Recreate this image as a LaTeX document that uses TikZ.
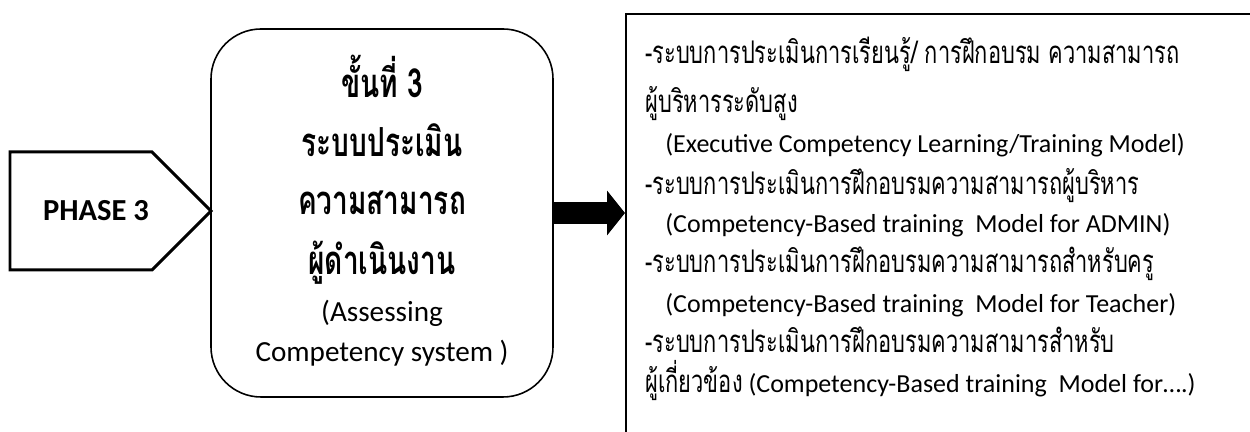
\documentclass[tikz,border=0pt]{standalone}
\usepackage{fontspec}
\setmainfont{Carlito}
\newfontfamily\thaifont[Script=Thai,Scale=1.2,FakeStretch=0.7]{Loma}
\usetikzlibrary{arrows.meta,positioning}
\newcommand{\thaitxt}[1]{{\thaifont #1}}

\begin{document}
\begin{tikzpicture}[
    phaseshape/.style={line width=1.7pt, line join=miter},
    stagebox/.style={draw, line width=0.9pt, rounded corners=1cm,
        minimum width=6.84cm, minimum height=7.36cm},
    listbox/.style={draw, line width=1.2pt, minimum width=13cm,
        minimum height=9cm, anchor=north west},
    stageline/.style={anchor=base, inner sep=0pt,
        font=\fontsize{19}{22}\selectfont\bfseries},
    stageeng/.style={anchor=base, inner sep=0pt,
        font=\fontsize{16.6}{20}\selectfont},
    listline/.style={anchor=base west, inner sep=0pt,
        font=\fontsize{14.8}{18}\selectfont},
    bigarrow/.style={line width=0.44cm, -{Triangle[length=0.36cm,width=0.88cm]}}
]
    \useasboundingbox (0,0) rectangle (25,8.64);
    \clip (0,0) rectangle (25,8.64);

    % Phase tag
    \draw[phaseshape] (0.2,3.24) -- (0.2,5.6) -- (3.04,5.6) -- (4.22,4.42) -- (3.04,3.24) -- cycle;
    \node[font=\fontsize{17.4}{20}\selectfont\bfseries] (phase) at (1.92,4.42) {PHASE 3};

    % Stage box
    \node[stagebox] (stage) at (7.64,4.38) {};
    \node[stageline] (s1) at (7.64,6.68) {\thaitxt{ขั้นที่ 3}};
    \node[stageline] (s2) at (7.64,5.50) {\thaitxt{ระบบประเมิน}};
    \node[stageline] (s3) at (7.64,4.34) {\thaitxt{ความสามารถ}};
    \node[stageline] (s4) at (7.64,3.14) {\thaitxt{ผู้ดำเนินงาน}};
    \node[stageeng] (s5) at (7.64,2.20) {(Assessing};
    \node[stageeng] (s6) at (7.64,1.40) {Competency system )};

    % Output list
    \node[listbox] (list) at (12.5,8.38) {};
    \foreach \x/\y/\txt [count=\i] in {
        12.9/7.36/{\thaitxt{-ระบบการประเมินการเรียนรู้/ การฝึกอบรม ความสามารถ}},
        12.9/6.38/{\thaitxt{ผู้บริหารระดับสูง}},
        13.3/5.58/{(Executive Competency Learning/Training Mod\textit{e}l)},
        12.9/4.74/{\thaitxt{-ระบบการประเมินการฝึกอบรมความสามารถผู้บริหาร}},
        13.3/3.98/{(Competency-Based training\ \ Model for ADMIN)},
        12.9/3.18/{\thaitxt{-ระบบการประเมินการฝึกอบรมความสามารถสำหรับครู}},
        13.3/2.38/{(Competency-Based training\ \ Model for Teacher)},
        12.9/1.58/{\thaitxt{-ระบบการประเมินการฝึกอบรมความสามารสำหรับ}},
        12.9/0.78/{\thaitxt{ผู้เกี่ยวข้อง} (Competency-Based training\ \ Model for….)}
    }
        \node[listline] (item\i) at (\x,\y) {\txt};

    % Arrow
    \draw[bigarrow] (stage.east) -- (stage.east -| list.west);
\end{tikzpicture}
\end{document}
